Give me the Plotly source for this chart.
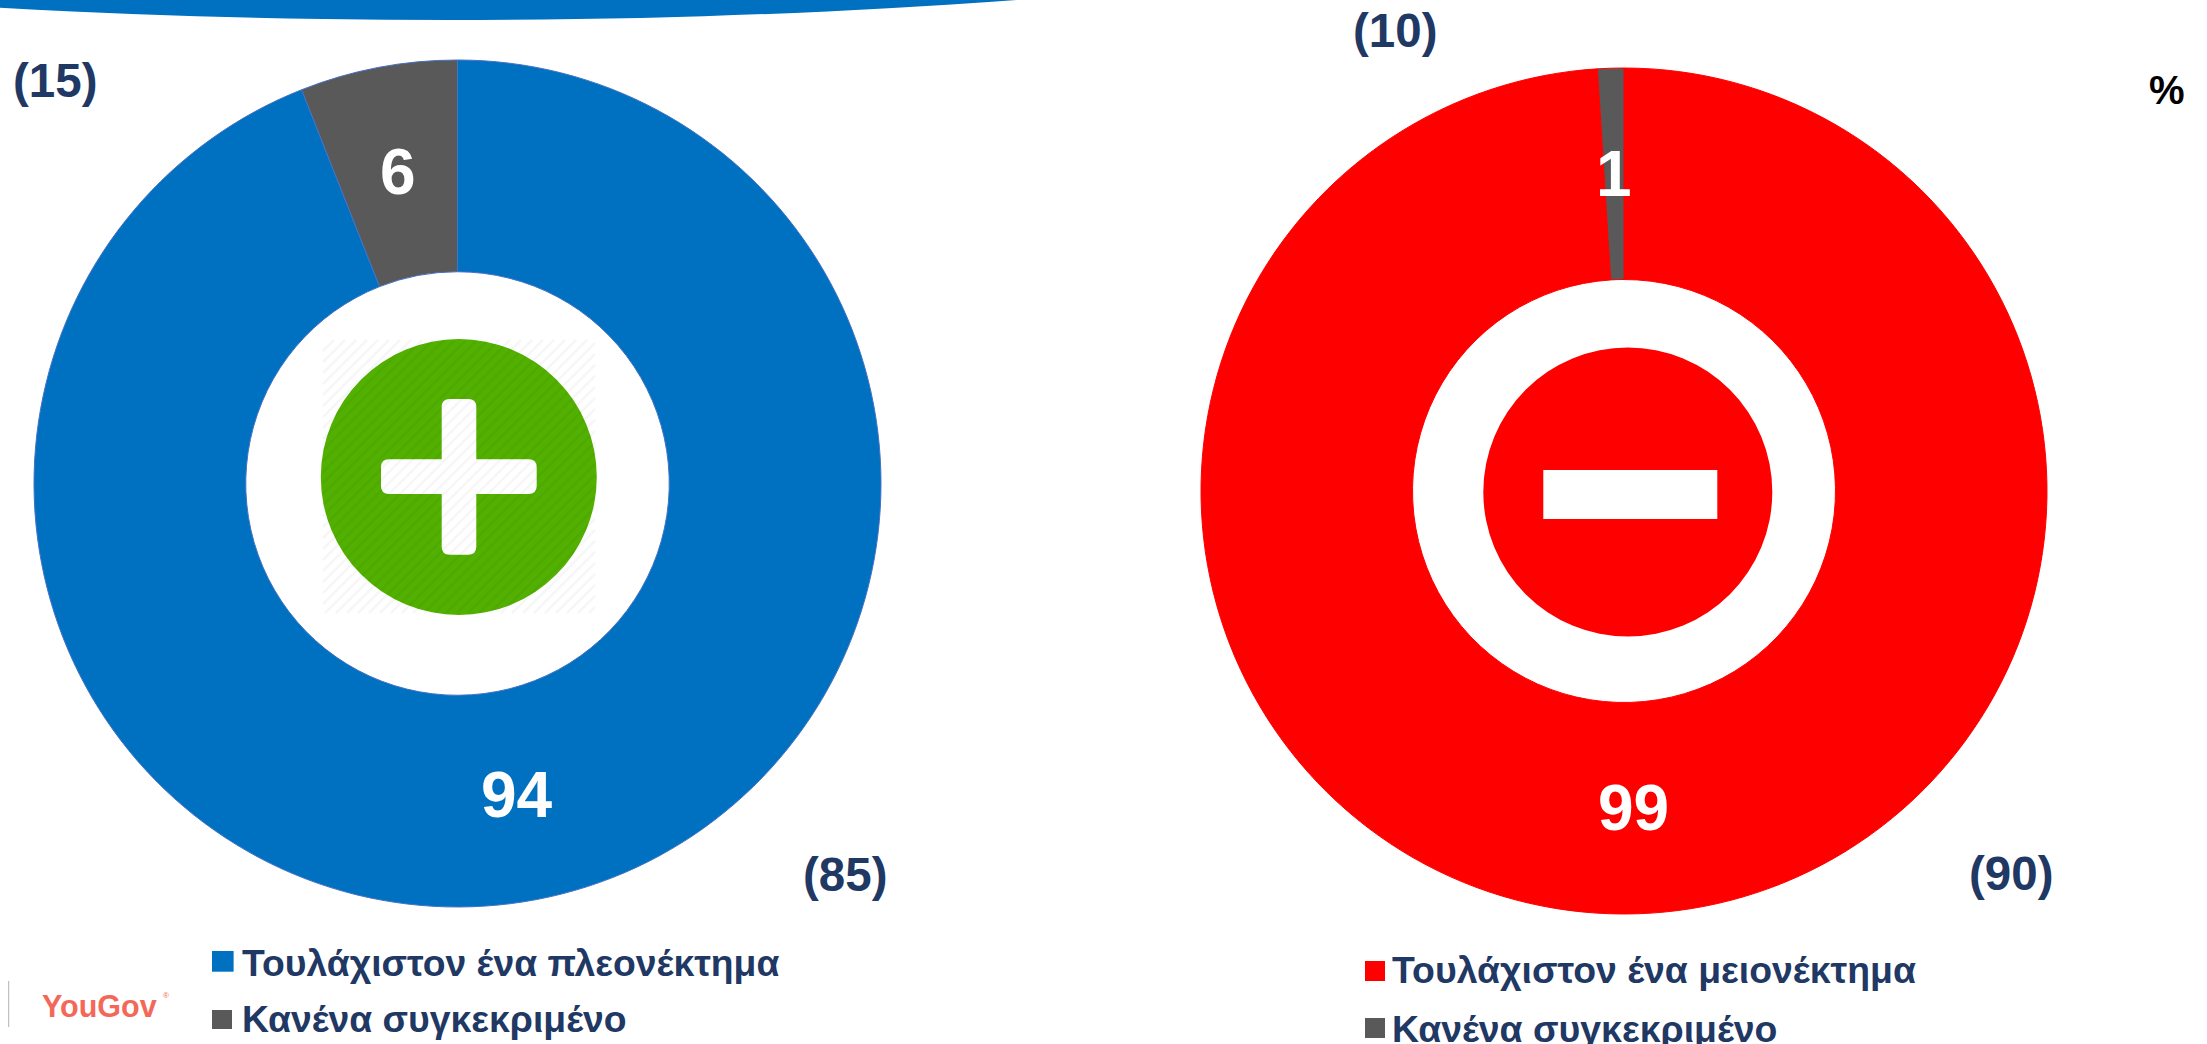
import numpy as np
import plotly.graph_objects as go

W, H = 2207, 1044

# ---- data ----
adv_labels = ["Τουλάχιστον ένα πλεονέκτημα", "Κανένα συγκεκριμένο"]
adv_values = [94, 6]
adv_previous = [85, 15]
dis_labels = ["Τουλάχιστον ένα μειονέκτημα", "Κανένα συγκεκριμένο"]
dis_values = [99, 1]
dis_previous = [90, 10]
adv_colors = ["#0070C0", "#595959"]
dis_colors = ["#FF0000", "#595959"]

NAVY = "#1F3864"
FONT = "Liberation Sans"


def fx(p):
    return p / W


def fy(p):
    return 1 - p / H


def pie(values, labels, colors, cx, cy, r, line):
    return go.Pie(
        values=values, labels=labels, hole=0.5, sort=False, direction="clockwise", rotation=0,
        marker=dict(colors=colors, line=dict(color=line, width=1)),
        domain=dict(x=[fx(cx - r), fx(cx + r)], y=[fy(cy + r), fy(cy - r)]),
        textinfo="none", showlegend=False, hoverinfo="label+value",
    )


L = (457.5, 483.5, 423.5)
R = (1624, 491, 423)
fig = go.Figure()
fig.add_trace(pie(adv_values, adv_labels, adv_colors, *L, "#4472C4"))
fig.add_trace(pie(dis_values, dis_labels, dis_colors, *R, "#FF0000"))

shapes, ann = [], []


def rect(x0, y0, x1, y1, color):
    shapes.append(dict(type="rect", xref="paper", yref="paper", x0=fx(x0), x1=fx(x1), y0=fy(y0), y1=fy(y1),
                       fillcolor=color, line=dict(width=0)))


def round_rect(x0, y0, x1, y1, r, color):
    pts = [("M", x0 + r, y0), ("L", x1 - r, y0), ("Q", x1, y0, x1, y0 + r), ("L", x1, y1 - r),
           ("Q", x1, y1, x1 - r, y1), ("L", x0 + r, y1), ("Q", x0, y1, x0, y1 - r), ("L", x0, y0 + r),
           ("Q", x0, y0, x0 + r, y0)]
    d = ""
    for p in pts:
        vals = p[1:]
        coords = [f"{fx(vals[i]):.5f},{fy(vals[i + 1]):.5f}" for i in range(0, len(vals), 2)]
        d += p[0] + " ".join(coords)
    shapes.append(dict(type="path", xref="paper", yref="paper", path=d + "Z", fillcolor=color, line=dict(width=0)))


def circle(cx, cy, rx, ry, color):
    shapes.append(dict(type="circle", xref="paper", yref="paper", x0=fx(cx - rx), x1=fx(cx + rx),
                       y0=fy(cy + ry), y1=fy(cy - ry), fillcolor=color, line=dict(width=0)))


def text(x, y, s, size, color=NAVY, anchor="left", bold=True, family=FONT):
    ann.append(dict(xref="paper", yref="paper", x=fx(x), y=fy(y), text=f"<b>{s}</b>" if bold else s,
                    showarrow=False, xanchor=anchor, yanchor="middle",
                    font=dict(family=family, size=size, color=color)))


def slice_labels(values, geom, size):
    cx, cy, r = geom
    total, run = sum(values), 0
    for v in values:
        ang = 2 * np.pi * (run + v / 2) / total
        run += v
        text(cx + 0.75 * r * np.sin(ang), cy - 0.75 * r * np.cos(ang), str(v), size, "white", "center")


# top arc
circle(450, -180, 1300, 200, "#0070C0")

# plus icon
circle(458.8, 477, 138, 138, "#52B000")
round_rect(381, 459.3, 536.7, 494, 8, "white")
round_rect(441.7, 399, 476.3, 554.7, 8, "white")
# hatch over the icon's square
hx0, hx1, hy0, hy1 = 323.0, 595.0, 340.0, 613.0
d = []
for t in np.arange(0, (hx1 - hx0) + (hy1 - hy0), 11.0):
    xa, ya = hx0 + max(0.0, t - (hy1 - hy0)), hy0 + min(t, hy1 - hy0)
    xb, yb = hx0 + min(t, hx1 - hx0), hy0 + max(0.0, t - (hx1 - hx0))
    d.append(f"M{fx(xa):.5f},{fy(ya):.5f}L{fx(xb):.5f},{fy(yb):.5f}")
shapes.append(dict(type="path", xref="paper", yref="paper", path="".join(d),
                   line=dict(color="rgba(0,0,0,0.035)", width=2.5)))

# minus icon
circle(1627.8, 492, 144.5, 144.5, "#FF0000")
rect(1543.3, 470, 1717.3, 519, "white")

# slice labels, placed from the slices' own values
slice_labels(adv_values, L, 64)
slice_labels(dis_values, R, 64)

# previous-wave labels
text(11, 81, f"({adv_previous[1]})", 47.5)
text(845, 874, f"({adv_previous[0]})", 47.5, anchor="center")
text(1395, 30, f"({dis_previous[1]})", 47.5, anchor="center")
text(2011, 873, f"({dis_previous[0]})", 47.5, anchor="center")
text(2167, 90, "%", 40, "#000000", "center")

# legends
rect(212, 951, 233.6, 971.7, adv_colors[0])
rect(212, 1010, 232, 1029, adv_colors[1])
text(240, 963, adv_labels[0], 37.3)
text(240, 1019, adv_labels[1], 37.3)
rect(1365, 961, 1385, 981, dis_colors[0])
rect(1365, 1018, 1385, 1038, dis_colors[1])
text(1390, 970, dis_labels[0], 37.4)
text(1390, 1029, dis_labels[1], 37.4)

# logo
rect(8, 981, 9.2, 1027, "#BFBFBF")
text(40, 1006, "YouGov", 30.5, "#F4685A")
text(161, 995, "®", 8, "#F4685A", bold=False)

fig.update_layout(width=W, height=H, margin=dict(l=0, r=0, t=0, b=0), paper_bgcolor="white",
                  plot_bgcolor="white", shapes=shapes, annotations=ann, showlegend=False)
for s in fig.layout.shapes:
    s.layer = "above"
fig.write_html("out.html", config=dict(displayModeBar=False),
               post_script="document.body.style.margin='0';document.body.style.overflow='hidden';")
